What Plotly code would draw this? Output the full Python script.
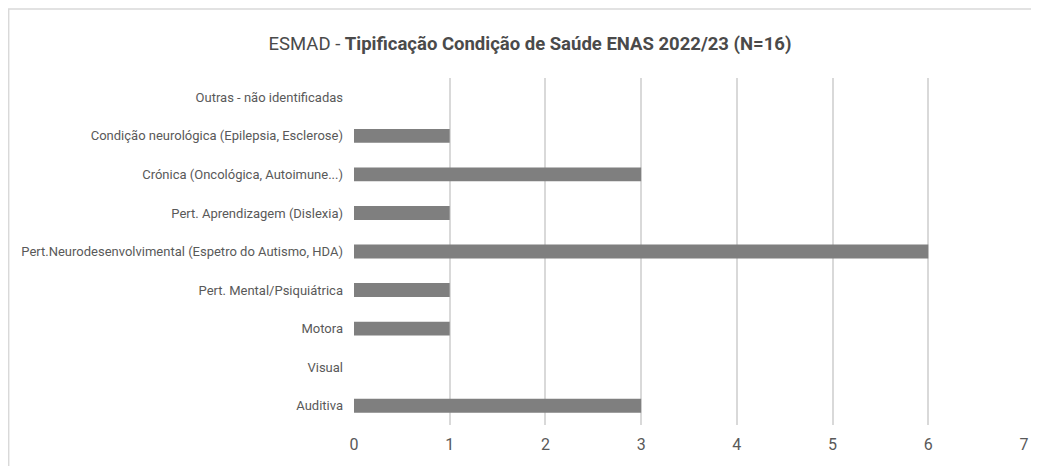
import plotly.graph_objects as go

categories = [
    "Auditiva",
    "Visual",
    "Motora",
    "Pert. Mental/Psiquiátrica",
    "Pert.Neurodesenvolvimental (Espetro do Autismo, HDA)",
    "Pert. Aprendizagem (Dislexia)",
    "Crónica (Oncológica, Autoimune...)",
    "Condição neurológica (Epilepsia, Esclerose)",
    "Outras - não identificadas",
]
values = [3, 0, 1, 1, 6, 1, 3, 1, 0]
x_ticks = [0, 1, 2, 3, 4, 5, 6, 7]

FONT = "Roboto, sans-serif"

L, R, T, B = 346, 23, 70, 49
W, H = 1039, 466
pw, ph = W - L - R, H - T - B

fig = go.Figure(go.Bar(
    y=categories, x=values, orientation="h",
    marker=dict(color="#7f7f7f", line=dict(width=0)),
    width=0.36,
))

fig.update_layout(
    width=W, height=H,
    margin=dict(l=L, r=R, t=T, b=B, autoexpand=False),
    paper_bgcolor="white", plot_bgcolor="white",
    showlegend=False,
    title=dict(
        text="ESMAD - <b>Tipificação Condição de Saúde ENAS 2022/23 (N=16)</b>",
        x=522 / W, xanchor="center", y=1 - 36 / H, yanchor="middle",
        font=dict(family=FONT, size=18.5, color="#4a4a4a"),
    ),
    xaxis=dict(
        range=[0, 7.0], tickvals=x_ticks, showgrid=True,
        gridcolor="#d9d9d9", gridwidth=1.5, zeroline=False,
        showline=False, ticks="", automargin=False,
        tickfont=dict(family=FONT, size=16, color="#595959"),
        ticklabelstandoff=8,
    ),
    yaxis=dict(
        categoryorder="array", categoryarray=categories,
        showgrid=False, zeroline=False, showline=False, ticks="",
        automargin=False,
        tickfont=dict(family=FONT, size=13, color="#595959"),
        ticklabelstandoff=10,
    ),
    shapes=[
        dict(type="line", xref="paper", yref="paper",
             x0=-L / pw, x1=(W - L) / pw, y0=1 + (T - 1) / ph, y1=1 + (T - 1) / ph,
             line=dict(color="#d9d9d9", width=1.5)),
        dict(type="line", xref="paper", yref="paper",
             x0=-L / pw + 0.001, x1=-L / pw + 0.001, y0=-B / ph, y1=1 + (T - 1) / ph,
             line=dict(color="#d9d9d9", width=1.5)),
    ],
)

fig.write_html("out.html")
